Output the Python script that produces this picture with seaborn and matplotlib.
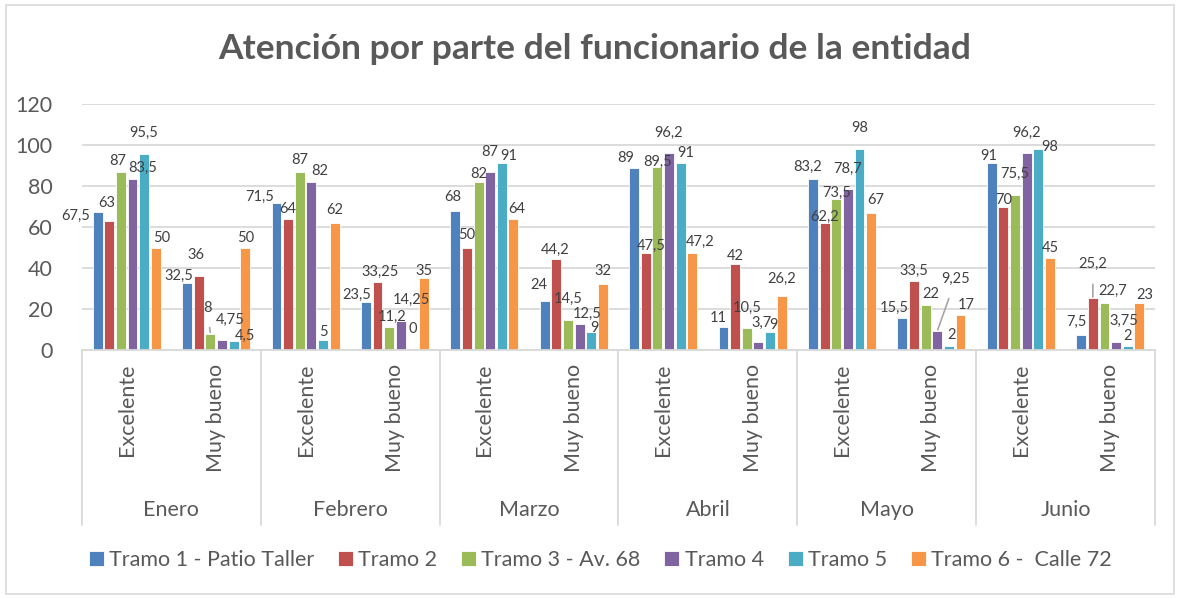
import matplotlib
matplotlib.use("Agg")
import matplotlib.pyplot as plt
import matplotlib.patches as mpatches
import pandas as pd
import seaborn as sns

# %% data
meses = ["Enero", "Febrero", "Marzo", "Abril", "Mayo", "Junio"]
calificaciones = ["Excelente", "Muy bueno"]
tramos = ["Tramo 1 - Patio Taller", "Tramo 2", "Tramo 3 - Av. 68",
          "Tramo 4", "Tramo 5", "Tramo 6 -  Calle 72"]

# one list per tramo, order: Enero Exc, Enero MB, Feb Exc, Feb MB, ...
tramo1 = [67.5, 32.5, 71.5, 23.5, 68, 24, 89, 11, 83.2, 15.5, 91, 7.5]
tramo2 = [63, 36, 64, 33.25, 50, 44.2, 47.5, 42, 62.2, 33.5, 70, 25.2]
tramo3 = [87, 8, 87, 11.2, 82, 14.5, 89.5, 10.5, 73.5, 22, 75.5, 22.7]
tramo4 = [83.5, 4.75, 82, 14.25, 87, 12.5, 96.2, 3.7, 78.7, 9.25, 96.2, 3.75]
tramo5 = [95.5, 4.5, 5, 0, 91, 9, 91, 9, 98, 2, 98, 2]
tramo6 = [50, 50, 62, 35, 64, 32, 47.2, 26.2, 67, 17, 45, 23]

colores = ["#4F81BD", "#C0504D", "#9BBB59", "#8064A2", "#4BACC6", "#F79646"]

# label offsets (pixels from bar top centre) as they were dragged in the original
offsets = [
    [(-21.5, -4), (-8, 8), (-17, 7), (-9, 7), (-3, 14), (-6, 16), (-8, 10), (-5, 9), (-5, 13), (-8, 10), (-3, 7), (-5, 13)],
    [(-3, 18), (-2.5, 21), (0, 10), (3, 10), (0, 13), (-1, 10), (5, 7), (0, 8), (0, 5.5), (0, 10), (0, 7), (0, 34)],
    [(-3, 11), (-3, 26), (0, 12), (2.5, 10), (0, 8), (0, 21), (0, 4.5), (0, 21), (0, 6), (5, 11), (0, 21), (8, 13)],
    [(10.5, 11), (8, 20), (8, 11), (10.5, 21), (0, 20), (8, 10), (0, 20), (3.5, 20), (0, 20), (18.5, 52), (0, 20), (8, 21)],
    [(0, 21), (11, 4.5), (0, 8), (0, 21), (7, 7), (3, 3.5), (5, 10), (3, 7), (0, 21), (3, 11), (11, 2), (0, 10)],
    [(5.5, 10), (0, 10), (0.5, 13), (0, 7), (3, 10), (0, 13), (7.5, 11), (0, 17), (5, 13), (5.5, 10), (0, 10), (5.5, 8)],
]
con_linea = {(2, 1), (3, 9), (1, 11)}

# %% long table
categorias = [f"{m}|{c}" for m in meses for c in calificaciones]
rows = []
for tramo, valores in zip(tramos, [tramo1, tramo2, tramo3, tramo4, tramo5, tramo6]):
    for cat, v in zip(categorias, valores):
        rows.append({"categoria": cat, "tramo": tramo, "valor": v})
df = pd.DataFrame(rows)

# %% plot
sns.set_style("white")
plt.rcParams["font.family"] = ["Lato", "DejaVu Sans"]
gris = "#595959"

fig = plt.figure(figsize=(11.8, 5.98), dpi=100)
ax = fig.add_axes([0.0695, 0.4147, 0.9093, 0.4113])

sns.barplot(data=df, x="categoria", y="valor", hue="tramo", order=categorias,
            hue_order=tramos, palette=colores, saturation=1, width=0.78, gap=0.15,
            edgecolor="white", linewidth=0.6, ax=ax, legend=True)

ax.set_ylim(0, 120)
ax.set_xlim(-0.5, len(categorias) - 0.5)
ax.set_yticks(range(0, 121, 20))
ax.yaxis.grid(True, color="#D9D9D9", linewidth=1.3)
ax.set_axisbelow(True)
for s in ["top", "right", "left"]:
    ax.spines[s].set_visible(False)
ax.spines["bottom"].set_color("#D9D9D9")
ax.spines["bottom"].set_linewidth(1.3)
ax.tick_params(axis="y", length=0, labelsize=15.5, labelcolor=gris, pad=21)
ax.tick_params(axis="x", length=0, labelsize=15.5, labelcolor=gris, pad=10)
ax.set_xticks(range(len(categorias)))
ax.set_xticklabels([c.split("|")[1] for c in categorias], rotation=90, va="top")
ax.set_xlabel("")
ax.set_ylabel("")

# data labels
for j, cont in enumerate(ax.containers):
    for k, b in enumerate(cont):
        h = b.get_height()
        dx, dy = offsets[j][k]
        arrow = None
        if (j, k) in con_linea:
            arrow = dict(arrowstyle="-", color="#A6A6A6", lw=1.2, shrinkA=7, shrinkB=1)
        ax.annotate(f"{h:g}".replace(".", ","), xy=(b.get_x() + b.get_width() / 2, h),
                    xytext=(dx, dy), textcoords="offset pixels", ha="center", va="center",
                    fontsize=10.5, color="#404040", arrowprops=arrow)

# month group labels + separators
trans = ax.get_xaxis_transform()
for i, m in enumerate(meses):
    ax.text(2 * i + 0.5, -0.65, m, transform=trans, ha="center", va="center",
            fontsize=15.5, color=gris)
for i in range(len(meses) + 1):
    ax.plot([2 * i - 0.5, 2 * i - 0.5], [0, -0.711], transform=trans,
            color="#D9D9D9", linewidth=1.3, clip_on=False)

# legend
handles, lbls = ax.get_legend_handles_labels()
ax.legend(handles, lbls, loc="center", bbox_to_anchor=(0.483, -0.854), ncol=6,
          frameon=False, fontsize=15.5, handlelength=0.7, handleheight=0.7,
          handletextpad=0.25, columnspacing=1.1, labelcolor=gris)

fig.text(0.504, 0.918, "Atención por parte del funcionario de la entidad",
         ha="center", va="center", fontsize=25.5, fontweight="bold", color=gris)

fig.patches.append(mpatches.Rectangle((0.005, 0.007), 0.99, 0.985, transform=fig.transFigure,
                                      fill=False, edgecolor="#D9D9D9", linewidth=1.2))

fig.savefig("out.png", dpi=100)
